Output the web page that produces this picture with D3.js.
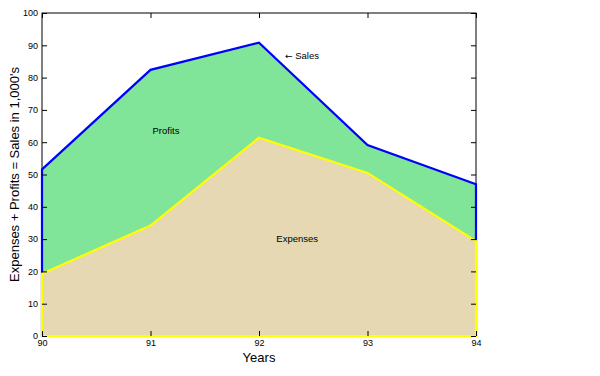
<!DOCTYPE html>
<html>
<head>
<meta charset="utf-8">
<script src="https://cdn.jsdelivr.net/npm/d3@7"></script>
<style>
  body { margin: 0; background: #fff; }
  text { font-family: "Liberation Sans", Arial, sans-serif; }
</style>
</head>
<body>
<div id="chart"></div>
<script>
const years = [90, 91, 92, 93, 94];
const sales = [51.6, 82.4, 90.8, 59.1, 47.0];
const expenses = [19.3, 34.2, 61.4, 50.5, 29.4];
const yTicks = [0, 10, 20, 30, 40, 50, 60, 70, 80, 90, 100];

const margin = {top: 13, right: 124, bottom: 40, left: 42},
  width = 600 - margin.left - margin.right,
  height = 376 - margin.top - margin.bottom;

const svg = d3.select("#chart")
  .append("svg")
  .attr("width", 600)
  .attr("height", 376)
  .append("g")
  .attr("transform", `translate(${margin.left},${margin.top})`);

const x = d3.scaleLinear().domain([90, 94]).range([0, width]);
const y = d3.scaleLinear().domain([0, 100]).range([height, 0]);

const rows = years.map((yr, i) => ({yr: yr, s: sales[i], e: expenses[i]}));

// box first, the patches sit on top of it
svg.append("rect")
  .attr("width", width)
  .attr("height", height)
  .attr("fill", "none")
  .attr("stroke", "#000")
  .attr("stroke-width", 1);

// sales patch (0 -> sales), blue outline
const salesPatch = d3.area()
  .x(d => x(d.yr))
  .y0(y(0))
  .y1(d => y(d.s));
svg.append("path")
  .datum(rows)
  .attr("d", salesPatch)
  .attr("fill", "#80e599")
  .attr("stroke", "#0000ff")
  .attr("stroke-width", 2.2);

// expenses patch with yellow outline
const expArea = d3.area()
  .x(d => x(d.yr))
  .y0(y(0))
  .y1(d => y(d.e));
svg.append("path")
  .datum(rows)
  .attr("d", expArea)
  .attr("fill", "#e5d8b3")
  .attr("stroke", "#ffff00")
  .attr("stroke-width", 2.2);

// axes with inward ticks
svg.append("g")
  .attr("transform", `translate(0,${height})`)
  .call(d3.axisBottom(x).tickValues(years).tickFormat(d3.format("d")).tickSizeInner(-5).tickSizeOuter(0).tickPadding(4));
svg.append("g")
  .call(d3.axisLeft(y).tickValues(yTicks).tickSizeInner(-5).tickSizeOuter(0).tickPadding(4));
svg.append("g")
  .call(d3.axisTop(x).tickValues(years).tickFormat("").tickSizeInner(-5).tickSizeOuter(0));
svg.append("g")
  .attr("transform", `translate(${width},0)`)
  .call(d3.axisRight(y).tickValues(yTicks).tickFormat("").tickSizeInner(-5).tickSizeOuter(0));
svg.selectAll(".domain").remove();
svg.selectAll(".tick text").attr("font-size", 9).attr("fill", "#000");
svg.selectAll(".tick line").attr("stroke", "#000");

// axis titles
svg.append("text")
  .attr("x", x(92))
  .attr("y", height + 26)
  .attr("text-anchor", "middle")
  .attr("font-size", 13)
  .text("Years");
svg.append("text")
  .attr("transform", `translate(${-margin.left + 19},${height / 2}) rotate(-90)`)
  .attr("text-anchor", "middle")
  .attr("font-size", 13)
  .text("Expenses + Profits = Sales in 1,000's");

// labels
svg.append("text")
  .attr("x", x(91) + 2)
  .attr("y", y(62.5))
  .attr("font-size", 9.5)
  .text("Profits");
svg.append("text")
  .attr("x", x(92.16))
  .attr("y", y(29))
  .attr("font-size", 9.5)
  .text("Expenses");
const salesLbl = svg.append("text")
  .attr("x", x(92.24))
  .attr("y", y(85.8))
  .attr("font-size", 9.5);
salesLbl.append("tspan").attr("font-family", "DejaVu Sans").attr("font-size", 9).text("\u2190");
salesLbl.append("tspan").text(" Sales");
</script>
</body>
</html>
